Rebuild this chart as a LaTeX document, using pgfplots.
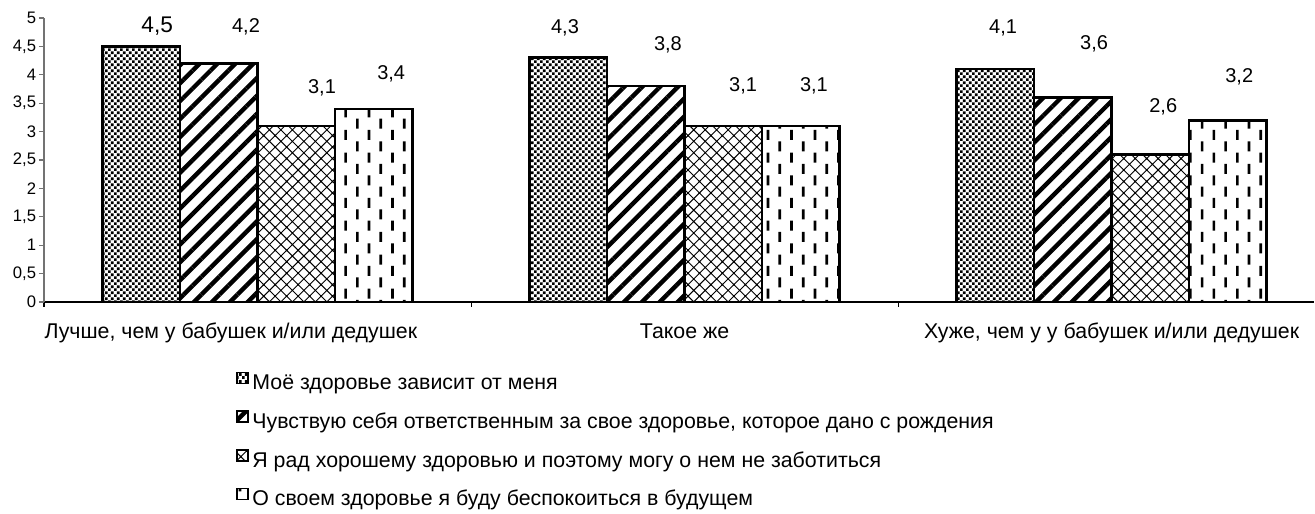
\documentclass[border=0pt]{standalone}
\usepackage{pgfplots}
\pgfplotsset{compat=1.18}
\usepackage{fontspec}
\setmainfont{Liberation Sans}
\usetikzlibrary{patterns,patterns.meta}

\pgfdeclarepatternformonly{mydots}{\pgfqpoint{0pt}{0pt}}{\pgfqpoint{4.8pt}{4.8pt}}{\pgfqpoint{4.8pt}{4.8pt}}{%
  \pgfpathrectangle{\pgfqpoint{0pt}{0pt}}{\pgfqpoint{2.2pt}{2.2pt}}%
  \pgfpathrectangle{\pgfqpoint{2.4pt}{2.4pt}}{\pgfqpoint{2.2pt}{2.2pt}}%
  \pgfusepath{fill}}
\pgfdeclarepatternformonly{mycross}{\pgfqpoint{-1pt}{-1pt}}{\pgfqpoint{9.5pt}{9.5pt}}{\pgfqpoint{8.6pt}{8.6pt}}{%
  \pgfsetlinewidth{0.7pt}%
  \pgfpathmoveto{\pgfqpoint{-0.5pt}{-0.5pt}}\pgfpathlineto{\pgfqpoint{9.1pt}{9.1pt}}%
  \pgfpathmoveto{\pgfqpoint{-0.5pt}{9.1pt}}\pgfpathlineto{\pgfqpoint{9.1pt}{-0.5pt}}%
  \pgfusepath{stroke}}
\pgfdeclarepatternformonly{mydash}{\pgfqpoint{-1pt}{-1pt}}{\pgfqpoint{18.6pt}{18pt}}{\pgfqpoint{17.6pt}{17pt}}{%
  \pgfpathrectangle{\pgfqpoint{3pt}{0pt}}{\pgfqpoint{2pt}{7.5pt}}%
  \pgfpathrectangle{\pgfqpoint{11.8pt}{8.5pt}}{\pgfqpoint{2pt}{7.5pt}}%
  \pgfusepath{fill}}

\newcommand{\biglab}{\fontsize{17}{18}\selectfont}

\begin{document}
\begin{tikzpicture}
\useasboundingbox (0,0) rectangle (986.25pt,385.5pt);
\begin{axis}[
  at={(33pt,159pt)}, anchor=south west,
  scale only axis, width=952.5pt, height=213pt,
  xmin=-0.5, xmax=2.474, ymin=0, ymax=5,
  axis x line*=bottom, axis y line*=left,
  x axis line style={black, line width=0.8pt},
  y axis line style={black!55, line width=0.8pt},
  tick align=outside, major tick length=3.75pt,
  ytick={0,0.5,1,1.5,2,2.5,3,3.5,4,4.5,5},
  /pgf/number format/use comma,
  /pgf/number format/assume math mode=true,
  yticklabel style={font=\fontsize{12.5}{14}\selectfont, inner sep=2pt},
  y tick style={black!55, line width=0.8pt},
  xtick={-0.5,0.5,1.5}, xticklabels={,,},
  x tick style={black, line width=0.8pt},
  extra x ticks={0,1,2},
  extra x tick labels={{Лучше, чем у бабушек и/или дедушек\hspace*{40pt}},{Такое же},{Хуже, чем у у бабушек и/или дедушек}},
  extra x tick style={major tick length=0pt, tick style={draw=none},
    tick label style={font=\fontsize{16}{18}\selectfont, inner sep=0pt, text height=11.5pt, yshift=-16pt}},
  legend style={at={(0,0)}, anchor=north west, xshift=144pt, yshift=-52pt,
    draw=none, fill=none, inner sep=0pt, row sep=12.4pt,
    font=\fontsize{16}{17}\selectfont,
    nodes={inner sep=0pt, text height=11pt, text depth=3pt},
    /tikz/every odd column/.append style={column sep=2.5pt}},
  legend cell align=left,
  legend image code/.code={\draw[#1, line width=1.4pt] (0pt,0.7pt) rectangle (8.2pt,8.9pt);},
]
\addplot[ybar, bar width=0.1815, bar shift=-0.27225, draw=black, line width=2pt, pattern=mydots]
  coordinates {(0,4.5) (1,4.3) (2,4.1)};
\addlegendentry{Моё здоровье зависит от меня}
\addplot[ybar, bar width=0.1815, bar shift=-0.09075, draw=black, line width=2pt,
  pattern={Lines[angle=45, distance=9.5pt, line width=3.3pt]}]
  coordinates {(0,4.2) (1,3.8) (2,3.6)};
\addlegendentry{Чувствую себя ответственным за свое здоровье, которое дано с рождения}
\addplot[ybar, bar width=0.1815, bar shift=0.09075, draw=black, line width=2pt, pattern=mycross]
  coordinates {(0,3.1) (1,3.1) (2,2.6)};
\addlegendentry{Я рад хорошему здоровью и поэтому могу о нем не заботиться}
\addplot[ybar, bar width=0.1815, bar shift=0.27225, draw=black, line width=2pt, pattern=mydash]
  coordinates {(0,3.4) (1,3.1) (2,3.2)};
\addlegendentry{О своем здоровье я буду беспокоиться в будущем}

\addplot[draw=none, forget plot, nodes near coords, point meta=explicit symbolic,
  nodes near coords align={center},
  every node near coord/.append style={font=\fontsize{15}{18}\selectfont, text=black}]
  coordinates {
  (-0.235,4.86) [\biglab 4,5]
  (-0.027,4.84) [4,2]
  (0.151,3.77) [3,1]
  (0.313,4.01) [3,4]
  (0.720,4.82) [4,3]
  (0.961,4.52) [3,8]
  (1.137,3.80) [3,1]
  (1.303,3.80) [3,1]
  (1.746,4.82) [4,1]
  (1.959,4.54) [3,6]
  (2.121,3.43) [2,6]
  (2.299,3.96) [3,2]
  };
\end{axis}
\end{tikzpicture}
\end{document}
